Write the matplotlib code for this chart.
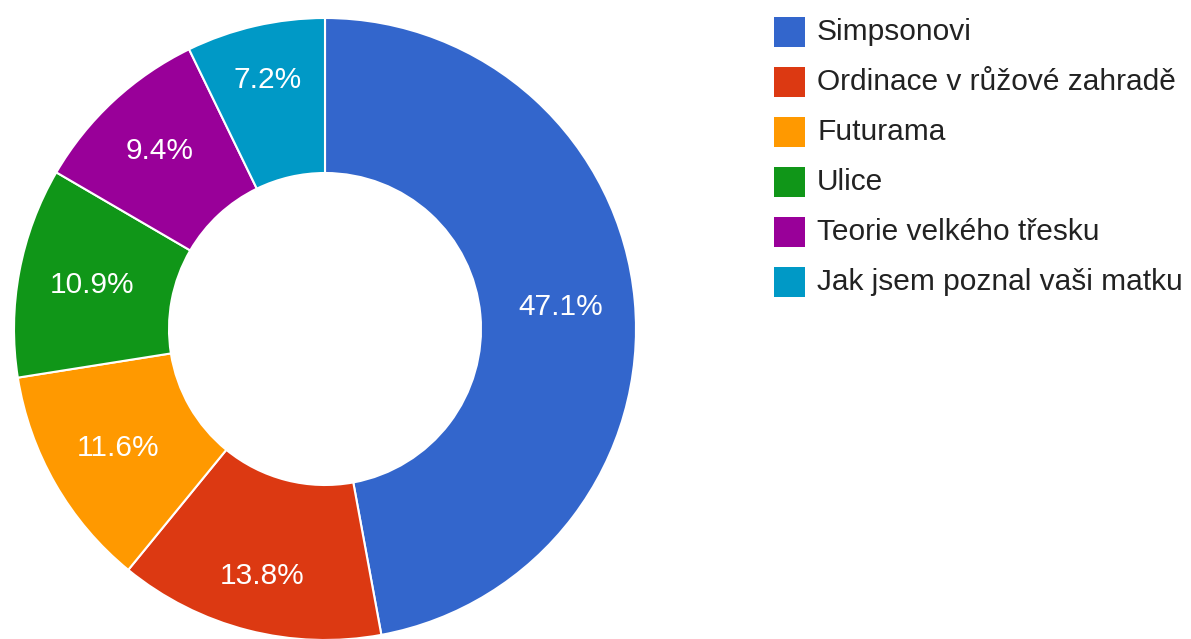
import matplotlib
matplotlib.use("Agg")
import numpy as np
import matplotlib.pyplot as plt
from matplotlib.patches import Rectangle

# Données
labels = ["Simpsonovi", "Ordinace v růžové zahradě", "Futurama", "Ulice",
          "Teorie velkého třesku", "Jak jsem poznal vaši matku"]
values = [47.1, 13.8, 11.6, 10.9, 9.4, 7.2]
colors = ["#3366cc", "#dc3912", "#ff9900", "#109618", "#990099", "#0099c6"]

plt.rcParams['font.family'] = ['Liberation Sans', 'DejaVu Sans']

W, H = 1191, 639
fig = plt.figure(figsize=(W / 100, H / 100), dpi=100)
ax = fig.add_axes([0, 0, 1, 1])

# Donut en coordonnées pixels
cx, cy, R = 325, H - 329, 311
hole = 156
wedges, _ = ax.pie(
    values, colors=colors, startangle=90, counterclock=False,
    center=(cx, cy), radius=R,
    wedgeprops=dict(width=R - hole, edgecolor="white", linewidth=1.5),
)

# Étiquettes de pourcentage (un peu plus loin en haut et en bas)
total = sum(values)
for w, v in zip(wedges, values):
    a = np.deg2rad((w.theta1 + w.theta2) / 2)
    d = 237 + 20 * abs(np.sin(a)) ** 4
    ax.text(cx + d * np.cos(a), cy + d * np.sin(a), f"{100 * v / total:.1f}%",
            color="white", fontsize=21.5, ha="center", va="center")

# Légende
lx, ly, step = 774, 32, 49.9
for i, (lab, col) in enumerate(zip(labels, colors)):
    y = H - (ly + i * step)
    ax.add_patch(Rectangle((lx, y - 15), 31, 30, facecolor=col, edgecolor="none"))
    ax.text(lx + 43, y, lab, fontsize=21.5, color="#222222", va="center", ha="left")

ax.set_xlim(0, W)
ax.set_ylim(0, H)
ax.set_aspect("equal")
ax.axis("off")

fig.savefig("out.png", dpi=100)
